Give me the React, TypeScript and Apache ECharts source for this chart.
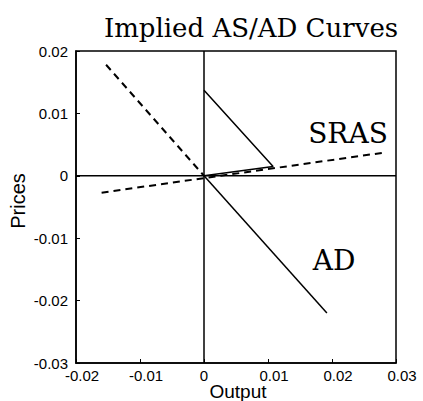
import React, { useEffect, useRef } from "react";
import * as echarts from "echarts";

const titleText = "Implied AS/AD Curves";
const xTicks = [-0.02, -0.01, 0, 0.01, 0.02, 0.03];
const yTicks = [-0.03, -0.02, -0.01, 0, 0.01, 0.02];

const adDashedX = [-0.0153, 0];
const adDashedY = [0.0178, 0];
const adSolidX = [0, 0.0192];
const adSolidY = [0, -0.022];
const srasX = [-0.016, 0.028];
const srasY = [-0.0027, 0.0037];
const pathX = [0, 0.0108, 0];
const pathY = [0.0137, 0.0015, 0];

const zip = (xs: number[], ys: number[]) => xs.map((x, i) => [x, ys[i]]);
const fmt = (v: number) => (Math.abs(v) < 1e-9 ? "0" : v.toFixed(2));

export default function App() {
  const ref = useRef<HTMLDivElement>(null);
  useEffect(() => {
    const chart = echarts.init(ref.current!, null, { renderer: "svg" });
    const xMin = xTicks[0], xMax = xTicks[xTicks.length - 1];
    const yMin = yTicks[0], yMax = yTicks[yTicks.length - 1];
    const lineStyle = { color: "#000", width: 1.5 };
    chart.setOption({
      animation: false,
      backgroundColor: "#fff",
      title: {
        text: titleText,
        left: 246,
        top: 10,
        textAlign: "center",
        textStyle: { fontFamily: "DejaVu Serif", fontSize: 26, fontWeight: "normal", color: "#000" },
      },
      grid: {
        left: 76, right: 27, top: 51, bottom: 38,
        outerBoundsMode: "none", containLabel: false,
        show: true, borderColor: "#000", borderWidth: 1.5,
      },
      xAxis: {
        type: "value",
        min: xMin,
        max: xMax,
        interval: 0.01,
        axisLine: { show: true, onZero: false, lineStyle: { color: "#000", width: 1.5 } },
        axisTick: { show: true, inside: true, length: 4, lineStyle: { color: "#000" } },
        axisLabel: {
          formatter: (v: number) => (Math.abs(v) < 1e-9 ? "{z|0}" : "{n|" + v.toFixed(2) + "}"),
          fontFamily: "Liberation Sans", fontSize: 15, color: "#000", margin: 5,
          rich: {
            n: { fontFamily: "Liberation Sans", fontSize: 15, color: "#000", padding: [0, 0, 0, 12] },
            z: { fontFamily: "Liberation Sans", fontSize: 15, color: "#000" },
          },
        },
        splitLine: { show: false },
      },
      yAxis: {
        type: "value",
        min: yMin,
        max: yMax,
        interval: 0.01,
        axisLine: { show: true, onZero: false, lineStyle: { color: "#000", width: 1.5 } },
        axisTick: { show: true, inside: true, length: 4, lineStyle: { color: "#000" } },
        axisLabel: { formatter: fmt, fontFamily: "Liberation Sans", fontSize: 15, color: "#000", margin: 8 },
        splitLine: { show: false },
      },
      series: [
        { type: "line", data: [[0, yMin], [0, yMax]], symbol: "none", lineStyle, silent: true },
        { type: "line", data: [[xMin, 0], [xMax, 0]], symbol: "none", lineStyle, silent: true },
        { type: "line", data: zip(adDashedX, adDashedY), symbol: "none", lineStyle: { color: "#000", width: 2, type: [7, 5] } },
        { type: "line", data: zip(srasX, srasY), symbol: "none", lineStyle: { color: "#000", width: 2, type: [7, 5] } },
        { type: "line", data: zip(adSolidX, adSolidY), symbol: "none", lineStyle },
        { type: "line", data: zip(pathX, pathY), symbol: "none", lineStyle },
      ],
      graphic: [
        { type: "text", x: 18, y: 201, rotation: Math.PI / 2, style: { text: "Prices", fontFamily: "Liberation Sans", fontSize: 20, fill: "#000", align: "center", verticalAlign: "middle" } },
        { type: "text", x: 238, y: 391, style: { text: "Output", fontFamily: "Liberation Sans", fontSize: 19, fill: "#000", align: "center", verticalAlign: "middle" } },
        { type: "text", x: 348, y: 133, style: { text: "SRAS", fontFamily: "DejaVu Serif", fontSize: 28, fill: "#000", align: "center", verticalAlign: "middle" } },
        { type: "text", x: 334, y: 260, style: { text: "AD", fontFamily: "DejaVu Serif", fontSize: 28, fill: "#000", align: "center", verticalAlign: "middle" } },
      ],
    });
    return () => chart.dispose();
  }, []);
  return <div ref={ref} style={{ width: 423, height: 401, position: "absolute", left: 0, top: 0 }} />;
}
